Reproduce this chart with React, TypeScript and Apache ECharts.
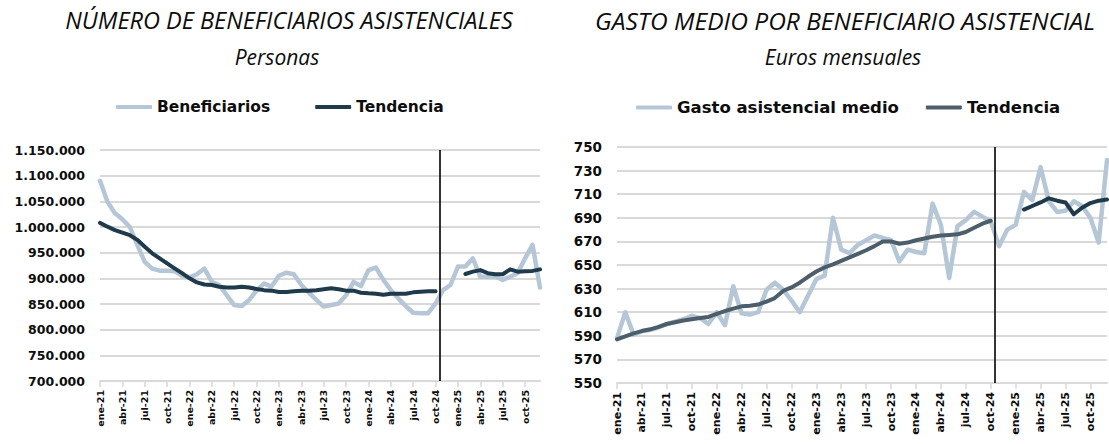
import React, { useEffect, useRef } from "react";
import * as echarts from "echarts";

// ---- Data ----
const MONTHS = ["ene", "feb", "mar", "abr", "may", "jun", "jul", "ago", "sep", "oct", "nov", "dic"];
const YEARS = ["21", "22", "23", "24", "25"];
const periods = YEARS.flatMap((y) => MONTHS.map((m) => `${m}-${y}`));
const tickIdx = periods.map((_, i) => i).filter((i) => i % 3 === 0);

// Número de beneficiarios asistenciales (personas)
const beneficiarios = [
  1090000, 1049000, 1027000, 1015000, 1000000, 965000, 932000, 919000, 915000, 915000, 914000, 905000,
  902000, 908000, 919000, 893000, 887000, 867000, 848000, 846000, 858000, 876000, 890000, 884000,
  905000, 911000, 908000, 887000, 872000, 858000, 845000, 848000, 851000, 867000, 893000, 885000,
  916000, 921000, 897000, 877000, 861000, 846000, 833000, 832000, 832000, 851000, 877000, 887000,
  923000, 923000, 939000, 903000, 903000, 903000, 897000, 903000, 910000, 939000, 965000, 882000,
];
const tendenciaBenef = [
  1008000, 1000600, 994000, 989000, 984000, 975000, 961600, 948700, 939000, 929000, 919500, 910000,
  900000, 892000, 888000, 887000, 883700, 882000, 882000, 883700, 882000, 879200, 877000, 876000,
  873400, 873400, 874700, 876000, 876000, 877000, 878600, 880500, 878600, 876000, 876000, 872000,
  870800, 870000, 868000, 870000, 870000, 870000, 872700, 874000, 874700, 874700, null, null,
  null, 908400, 913000, 916000, 910000, 908000, 908000, 917500, 913000, 914000, 914500, 917500,
];

// Gasto medio por beneficiario asistencial (euros mensuales)
const gastoMedio = [
  588, 610, 591, 594, 595, 597, 600, 602, 604, 607, 605, 600,
  610, 599, 632, 609, 608, 610, 629, 635, 629, 620, 610, 624,
  638, 641, 690, 663, 660, 667, 671, 675, 673, 671, 653, 663,
  661, 660, 702, 684, 639, 683, 688, 695, 691, 687, 666, 680,
  684, 712, 705, 733, 704, 695, 696, 704, 700, 690, 669, 739,
];
const tendenciaGasto = [
  587, 589.5, 592, 594, 595.5, 597.5, 600, 601.5, 603, 604, 605, 606,
  608.5, 611, 613, 615, 615.5, 616.5, 619, 622, 628, 631, 635, 640,
  644.5, 648, 650.5, 653.5, 656.5, 659.5, 662.5, 666, 670, 670, 668, 669,
  671, 672.5, 674, 675, 675.5, 676, 678, 681.5, 685, 687.5, null, null,
  null, null, null, null, null, null, null, null, null, null, null, null,
];
const tendenciaGastoProy = [
  null, null, null, null, null, null, null, null, null, null, null, null,
  null, null, null, null, null, null, null, null, null, null, null, null,
  null, null, null, null, null, null, null, null, null, null, null, null,
  null, null, null, null, null, null, null, null, null, null, null, null,
  null, 697, 700, 703, 706.5, 704.5, 703, 693, 698.5, 702.5, 704.5, 705.5,
];

// Separation between observed and projected months (between oct-24 and nov-24)
const FORECAST_CUT = 45.5;

const TITLE_L = "NÚMERO DE BENEFICIARIOS ASISTENCIALES";
const SUB_L = "Personas";
const TITLE_R = "GASTO MEDIO POR BENEFICIARIO ASISTENCIAL";
const SUB_R = "Euros mensuales";

// ---- Styles ----
const LIGHT = "#b5c6d7";
const DARK = "#1f3b4b";
const DARK_R = "#4b5e69";
const GRID = "#d9d9d9";
const TXT = "#0d0d0d";
const LABEL_FONT = "'DejaVu Sans', Arial, sans-serif";
const TITLE_FONT = "'Open Sans', 'Noto Sans', sans-serif";

const pairs = (arr: (number | null)[]) => arr.map((v, i) => [i, v === null ? "-" : v]);
const thousands = (v: number) => String(v).replace(/\B(?=(\d{3})+(?!\d))/g, ".");

function xAxisCfg(gridIndex: number, fontSize: number) {
  return {
    type: "value",
    gridIndex,
    min: 0,
    max: periods.length - 1,
    interval: 3,
    axisLine: { show: true, lineStyle: { color: GRID, width: 2 } },
    axisTick: { show: true, length: 6, lineStyle: { color: GRID, width: 1.5 }, customValues: tickIdx },
    splitLine: { show: false },
    axisLabel: {
      rotate: 90,
      margin: 9,
      customValues: tickIdx,
      formatter: (v: number) => (Number.isInteger(v) && v % 3 === 0 ? periods[v] : ""),
      fontFamily: LABEL_FONT,
      fontWeight: "bold",
      fontSize,
      color: TXT,
    },
  };
}

function yAxisCfg(gridIndex: number, min: number, max: number, interval: number, fontSize: number, fmt: (v: number) => string) {
  return {
    type: "value",
    gridIndex,
    min,
    max,
    interval,
    axisLine: { show: false },
    axisTick: { show: false },
    splitLine: { show: true, lineStyle: { color: GRID, width: 2 } },
    axisLabel: {
      margin: 15,
      formatter: fmt,
      fontFamily: LABEL_FONT,
      fontWeight: "bold",
      fontSize,
      color: TXT,
    },
  };
}

const cutLine = {
  silent: true,
  symbol: ["none", "none"],
  label: { show: false },
  lineStyle: { color: "#000", width: 1.6, type: "solid" },
  data: [{ xAxis: FORECAST_CUT }],
};

function lineSeries(name: string, data: (number | null)[], color: string, width: number, idx: number, extra: any = {}) {
  return {
    type: "line",
    name,
    xAxisIndex: idx,
    yAxisIndex: idx,
    data: pairs(data),
    showSymbol: false,
    symbol: "none",
    connectNulls: false,
    lineStyle: { color, width, cap: "round", join: "round" },
    itemStyle: { color },
    emphasis: { disabled: true },
    ...extra,
  };
}

export default function App() {
  const ref = useRef<HTMLDivElement>(null);
  useEffect(() => {
    if (!ref.current) return;
    const chart = echarts.init(ref.current, undefined, { renderer: "svg" });
    const legendText = (size: number) => ({
      fontFamily: LABEL_FONT,
      fontWeight: "bold",
      fontSize: size,
      color: TXT,
    });
    const titleText = (x: number, y: number, text: string, size: number) => ({
      type: "text",
      x,
      y,
      style: {
        text,
        fill: TXT,
        font: `italic ${size}px ${TITLE_FONT}`,
        textAlign: "center",
        textVerticalAlign: "middle",
      },
    });
    chart.setOption({
      animation: false,
      backgroundColor: "#ffffff",
      grid: [
        { left: 100, top: 150, width: 440, height: 231 },
        { left: 617, top: 147, width: 490, height: 236 },
      ],
      xAxis: [xAxisCfg(0, 9.5), xAxisCfg(1, 11)],
      yAxis: [
        yAxisCfg(0, 700000, 1150000, 50000, 12.5, thousands),
        yAxisCfg(1, 550, 750, 20, 13.5, (v: number) => String(v)),
      ],
      legend: [
        {
          data: ["Beneficiarios", "Tendencia"],
          left: 111,
          top: 94,
          icon: "roundRect",
          itemWidth: 36,
          itemHeight: 4,
          itemGap: 45,
          textStyle: legendText(15.5),
          selectedMode: false,
        },
        {
          data: ["Gasto asistencial medio", "Tendencia gasto"],
          formatter: (n: string) => (n === "Tendencia gasto" ? "Tendencia" : n),
          left: 631,
          top: 94,
          icon: "roundRect",
          itemWidth: 36,
          itemHeight: 4,
          itemGap: 27,
          textStyle: legendText(16.5),
          selectedMode: false,
        },
      ],
      graphic: [
        titleText(289, 20, TITLE_L, 23.5),
        titleText(277, 57, SUB_L, 21),
        titleText(845, 20, TITLE_R, 24.5),
        titleText(843, 57, SUB_R, 21),
      ],
      series: [
        lineSeries("Beneficiarios", beneficiarios, LIGHT, 4.5, 0, { markLine: cutLine }),
        lineSeries("Tendencia", tendenciaBenef, DARK, 4, 0),
        lineSeries("Gasto asistencial medio", gastoMedio, LIGHT, 4.5, 1, { markLine: cutLine }),
        lineSeries("Tendencia gasto", tendenciaGasto, DARK_R, 4, 1),
        lineSeries("Tendencia proyección", tendenciaGastoProy, DARK, 4, 1),
      ],
    });
    return () => chart.dispose();
  }, []);
  return <div ref={ref} style={{ position: "fixed", left: 0, top: 0, width: 1109, height: 444 }} />;
}
